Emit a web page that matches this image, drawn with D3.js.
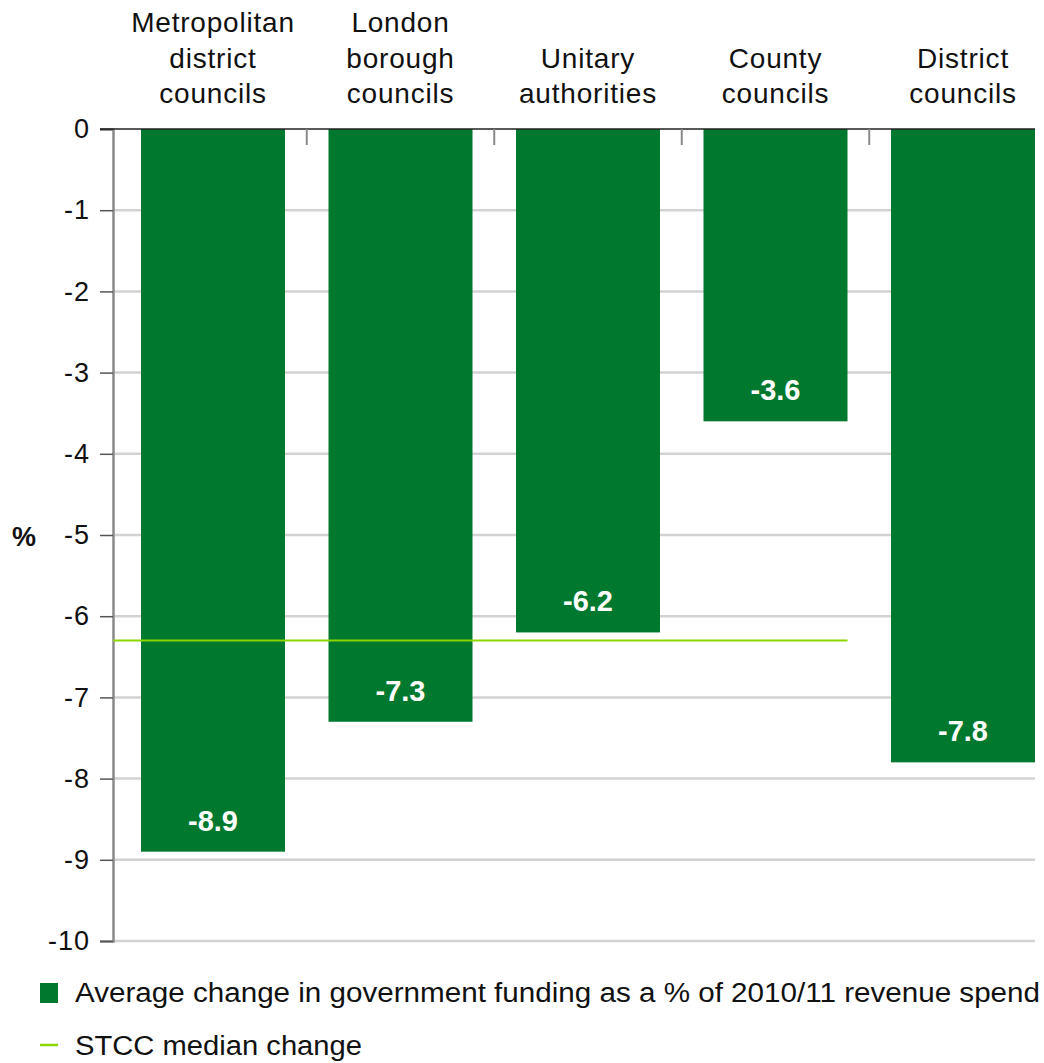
<!DOCTYPE html>
<html>
<head>
<meta charset="utf-8">
<script src="https://cdn.jsdelivr.net/npm/d3@7"></script>
<style>
  html, body { margin: 0; padding: 0; background: #fff; }
  svg { display: block; font-family: "Liberation Sans", Arial, sans-serif; }
</style>
</head>
<body>
<svg id="chart" width="1044" height="1063"></svg>
<script>
// Council types (multi-line labels) and their average funding change
const categories = [
  ["Metropolitan", "district", "councils"],
  ["London", "borough", "councils"],
  ["Unitary", "authorities"],
  ["County", "councils"],
  ["District", "councils"]
];
const values = [-8.9, -7.3, -6.2, -3.6, -7.8];
const medianChange = -6.3;
const yTicks = [0, -1, -2, -3, -4, -5, -6, -7, -8, -9, -10];
const legendLabels = [
  "Average change in government funding as a % of 2010/11 revenue spend",
  "STCC median change"
];

const barColor = "#00782d";
const medianColor = "#8cd600";

const svg = d3.select("#chart");
const axisX = 113;
const plotTop = 129, plotBottom = 941;

const ids = categories.map((c, i) => i);
const x = d3.scaleBand().domain(ids).range([119.25, 1056.75]).paddingInner(0.232).paddingOuter(0.116);
const y = d3.scaleLinear().domain([0, -10]).range([plotTop, plotBottom]);

const plotRight = x(ids[ids.length - 1]) + x.bandwidth();

// gridlines
svg.append("g").selectAll("line").data(yTicks.filter(t => t !== 0)).join("line")
  .attr("x1", axisX).attr("x2", plotRight)
  .attr("y1", d => y(d)).attr("y2", d => y(d))
  .attr("stroke", "#d2d2d2").attr("stroke-width", 2.5);

// y axis
const yAxis = d3.axisLeft(y).tickValues(yTicks).tickSize(13).tickPadding(10)
  .tickFormat(d => d3.format("d")(d).replace("−", "-"));
const ya = svg.append("g").attr("transform", `translate(${axisX},0)`).call(yAxis);
ya.select(".domain").attr("stroke", "#8a8a8a").attr("stroke-width", 2.5);
ya.selectAll(".tick line").attr("stroke", "#555").attr("stroke-width", 1.5);
ya.selectAll(".tick text").attr("font-size", 27).attr("fill", "#111")
  .attr("letter-spacing", 1)
  .attr("font-family", "'Liberation Sans', Arial, sans-serif");

// bars
svg.append("g").selectAll("rect").data(values).join("rect")
  .attr("x", (d, i) => x(i))
  .attr("y", y(0))
  .attr("width", x.bandwidth())
  .attr("height", d => y(d) - y(0))
  .attr("fill", barColor);

// zero line
svg.append("line")
  .attr("x1", 100).attr("x2", plotRight)
  .attr("y1", y(0)).attr("y2", y(0))
  .attr("stroke", "#222").attr("stroke-width", 1.5);

// category separator ticks
svg.append("g").selectAll("line").data(ids.slice(1)).join("line")
  .attr("x1", d => x(d) - x.step() * x.paddingInner() / 2)
  .attr("x2", d => x(d) - x.step() * x.paddingInner() / 2)
  .attr("y1", y(0)).attr("y2", y(0) + 16)
  .attr("stroke", "#8a8a8a").attr("stroke-width", 2);

// median line across first four categories
svg.append("line")
  .attr("x1", axisX).attr("x2", x(3) + x.bandwidth())
  .attr("y1", y(medianChange)).attr("y2", y(medianChange))
  .attr("stroke", medianColor).attr("stroke-width", 2);

// value labels
svg.append("g").selectAll("text").data(values).join("text")
  .attr("x", (d, i) => x(i) + x.bandwidth() / 2)
  .attr("y", d => y(d) - 21)
  .attr("text-anchor", "middle")
  .attr("font-size", 29).attr("font-weight", "bold").attr("fill", "#fff")
  .text(d => d.toFixed(1));

// category labels above the chart
const cat = svg.append("g").selectAll("text").data(categories).join("text")
  .attr("text-anchor", "middle")
  .attr("font-size", 28).attr("letter-spacing", 0.8).attr("fill", "#111");
cat.each(function(lines, i) {
  const t = d3.select(this);
  const n = lines.length;
  lines.forEach((ln, k) => {
    t.append("tspan")
      .attr("x", x(i) + x.bandwidth() / 2)
      .attr("y", 103 - (n - 1 - k) * 35.5)
      .text(ln);
  });
});

// axis unit
svg.append("text").attr("x", 24).attr("y", 546).attr("text-anchor", "middle")
  .attr("font-size", 27).attr("font-weight", "bold").attr("fill", "#111").text("%");

// legend
svg.append("rect").attr("x", 40).attr("y", 983).attr("width", 18).attr("height", 20).attr("fill", barColor);
svg.append("text").attr("x", 75).attr("y", 1002).attr("font-size", 27).attr("fill", "#111")
  .attr("textLength", 965).attr("lengthAdjust", "spacingAndGlyphs").text(legendLabels[0]);
svg.append("line").attr("x1", 40).attr("x2", 58).attr("y1", 1045).attr("y2", 1045)
  .attr("stroke", medianColor).attr("stroke-width", 2.5);
svg.append("text").attr("x", 75).attr("y", 1055).attr("font-size", 27).attr("fill", "#111")
  .attr("textLength", 287).attr("lengthAdjust", "spacingAndGlyphs").text(legendLabels[1]);
</script>
</body>
</html>
